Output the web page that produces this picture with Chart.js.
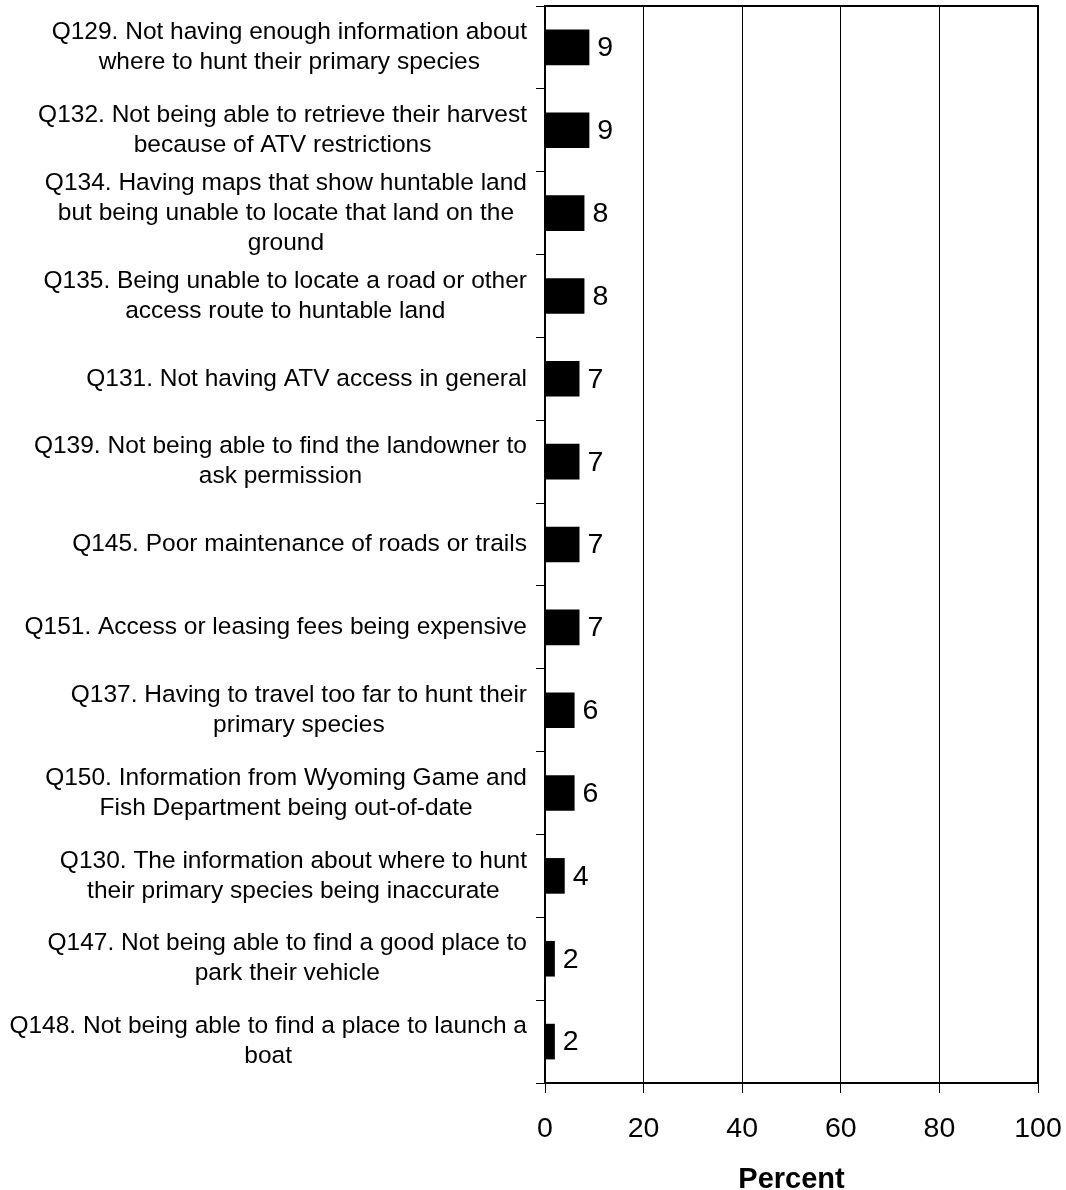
<!DOCTYPE html>
<html>
<head>
<meta charset="utf-8">
<script src="https://cdn.jsdelivr.net/npm/chart.js@4"></script>
<style>
html,body{margin:0;padding:0;background:#fff;}
#wrap{width:1066px;height:1190px;position:relative;}
</style>
</head>
<body>
<div id="wrap"><canvas id="c" width="1066" height="1190"></canvas></div>
<script>
const categories = [
  ["Q129. Not having enough information about", "where to hunt their primary species"],
  ["Q132. Not being able to retrieve their harvest", "because of ATV restrictions"],
  ["Q134. Having maps that show huntable land", "but being unable to locate that land on the", "ground"],
  ["Q135. Being unable to locate a road or other", "access route to huntable land"],
  ["Q131. Not having ATV access in general"],
  ["Q139. Not being able to find the landowner to", "ask permission"],
  ["Q145. Poor maintenance of roads or trails"],
  ["Q151. Access or leasing fees being expensive"],
  ["Q137. Having to travel too far to hunt their", "primary species"],
  ["Q150. Information from Wyoming Game and", "Fish Department being out-of-date"],
  ["Q130. The information about where to hunt", "their primary species being inaccurate"],
  ["Q147. Not being able to find a good place to", "park their vehicle"],
  ["Q148. Not being able to find a place to launch a", "boat"]
];
const percentValues = [9, 9, 8, 8, 7, 7, 7, 7, 6, 6, 4, 2, 2];
const xTicks = [0, 20, 40, 60, 80, 100];
const axisTitle = "Percent";

const FONT = 'Arial, "Liberation Sans", sans-serif';

const labelPlugin = {
  id: 'catLabels',
  afterDraw(chart) {
    const ctx = chart.ctx;
    const y = chart.scales.y;
    ctx.save();
    ctx.font = '24.5px ' + FONT;
    ctx.fillStyle = '#000';
    ctx.textBaseline = 'middle';
    ctx.textAlign = 'center';
    const lh = 30;
    const rightEdge = chart.chartArea.left - 18;
    categories.forEach((lines, i) => {
      const cy = y.getPixelForValue(i);
      let w = 0;
      lines.forEach(l => { w = Math.max(w, ctx.measureText(l).width); });
      const cx = rightEdge - w / 2;
      const start = cy - (lines.length - 1) * lh / 2;
      lines.forEach((l, k) => ctx.fillText(l, cx, start + k * lh));
    });
    ctx.restore();
  }
};

const valuePlugin = {
  id: 'valueLabels',
  afterDatasetsDraw(chart) {
    const ctx = chart.ctx;
    const meta = chart.getDatasetMeta(0);
    ctx.save();
    ctx.font = '28.5px ' + FONT;
    ctx.fillStyle = '#000';
    ctx.textAlign = 'left';
    ctx.textBaseline = 'middle';
    meta.data.forEach((bar, i) => {
      ctx.fillText(String(percentValues[i]), bar.x + 8, bar.y + 1);
    });
    ctx.restore();
  }
};

const borderPlugin = {
  id: 'frame',
  afterDraw(chart) {
    const a = chart.chartArea;
    const ctx = chart.ctx;
    ctx.save();
    ctx.strokeStyle = '#000';
    ctx.lineWidth = 2;
    ctx.beginPath();
    ctx.moveTo(a.left, a.top);
    ctx.lineTo(a.right, a.top);
    ctx.lineTo(a.right, a.bottom);
    ctx.stroke();
    ctx.restore();
  }
};

new Chart(document.getElementById('c'), {
  type: 'bar',
  data: {
    labels: categories,
    datasets: [{
      data: percentValues,
      backgroundColor: '#000',
      borderColor: '#000',
      borderWidth: 0,
      barPercentage: 0.43,
      categoryPercentage: 1
    }]
  },
  options: {
    indexAxis: 'y',
    responsive: false,
    animation: false,
    devicePixelRatio: 1,
    layout: { padding: { top: 6, right: 28, bottom: 0, left: 0 } },
    plugins: { legend: { display: false }, tooltip: { enabled: false } },
    scales: {
      x: {
        min: 0, max: 100,
        afterBuildTicks(scale) { scale.ticks = xTicks.map(v => ({ value: v })); },
        afterFit(scale) { scale.paddingRight = 0; scale.paddingLeft = 0; },
        ticks: { font: { size: 28.5, family: FONT }, color: '#000', padding: 19, maxRotation: 0 },
        grid: { color: '#000', lineWidth: 1, tickLength: 10, drawTicks: true },
        border: { color: '#000', width: 2 },
        title: { display: true, text: axisTitle, color: '#000', font: { size: 29, weight: 'bold', family: FONT }, padding: { top: -3, bottom: -7 } }
      },
      y: {
        afterFit(scale) { scale.width = 545; },
        ticks: { display: false },
        grid: { drawOnChartArea: false, drawTicks: true, tickLength: 9, color: '#000', offset: true },
        border: { color: '#000', width: 2 }
      }
    }
  },
  plugins: [labelPlugin, valuePlugin, borderPlugin]
});
</script>
</body>
</html>
